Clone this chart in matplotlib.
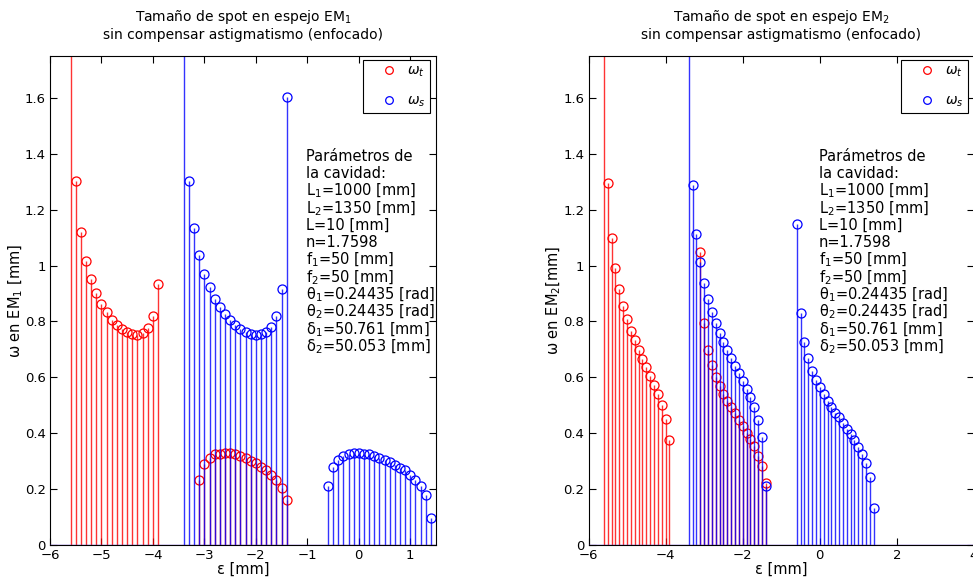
import matplotlib
matplotlib.use("Agg")
import matplotlib.pyplot as plt
from matplotlib.lines import Line2D
from matplotlib.ticker import FormatStrFormatter

plt.rcParams['font.family'] = ['DejaVu Sans']
plt.rcParams['mathtext.fontset'] = 'dejavusans'

# epsilon grid [mm] for each group of stems
eps_t_a = [-5.6, -5.5, -5.4, -5.3, -5.2, -5.1, -5.0, -4.9, -4.8, -4.7, -4.6, -4.5,
           -4.4, -4.3, -4.2, -4.1, -4.0, -3.9]
eps_t_b = [-3.1, -3.0, -2.9, -2.8, -2.7, -2.6, -2.5, -2.4, -2.3, -2.2, -2.1, -2.0,
           -1.9, -1.8, -1.7, -1.6, -1.5, -1.4]
eps_s_a = [-3.4, -3.3, -3.2, -3.1, -3.0, -2.9, -2.8, -2.7, -2.6, -2.5, -2.4, -2.3,
           -2.2, -2.1, -2.0, -1.9, -1.8, -1.7, -1.6, -1.5, -1.4]
eps_s_b = [-0.6, -0.5, -0.4, -0.3, -0.2, -0.1, 0.0, 0.1, 0.2, 0.3, 0.4, 0.5,
           0.6, 0.7, 0.8, 0.9, 1.0, 1.1, 1.2, 1.3, 1.4]

# spot size on EM1 [mm] (first value of each "a" group is off the chart)
w_t_em1_a = [3.0, 1.304, 1.120, 1.018, 0.951, 0.902, 0.862, 0.833, 0.807, 0.788,
             0.773, 0.761, 0.754, 0.751, 0.757, 0.777, 0.818, 0.933]
w_t_em1_b = [0.231, 0.289, 0.313, 0.324, 0.327, 0.330, 0.329, 0.325, 0.320, 0.313,
             0.301, 0.292, 0.280, 0.268, 0.252, 0.232, 0.205, 0.161]
w_s_em1_a = [3.0, 1.302, 1.133, 1.037, 0.971, 0.923, 0.882, 0.851, 0.826, 0.805,
             0.787, 0.773, 0.763, 0.755, 0.751, 0.755, 0.762, 0.780, 0.820, 0.917, 1.604]
w_s_em1_b = [0.212, 0.280, 0.304, 0.319, 0.326, 0.330, 0.330, 0.327, 0.324, 0.319,
             0.312, 0.305, 0.296, 0.287, 0.276, 0.267, 0.252, 0.231, 0.211, 0.179, 0.098]

# spot size on EM2 [mm]
w_t_em2_a = [3.0, 1.294, 1.100, 0.990, 0.915, 0.855, 0.808, 0.767, 0.732, 0.698,
             0.664, 0.636, 0.605, 0.574, 0.541, 0.500, 0.451, 0.375]
w_t_em2_b = [1.049, 0.793, 0.699, 0.643, 0.601, 0.569, 0.542, 0.515, 0.493, 0.471,
             0.448, 0.425, 0.402, 0.379, 0.354, 0.320, 0.282, 0.223]
w_s_em2_a = [3.0, 1.290, 1.113, 1.012, 0.937, 0.880, 0.833, 0.793, 0.760, 0.726,
             0.698, 0.669, 0.642, 0.616, 0.588, 0.560, 0.529, 0.493, 0.449, 0.385, 0.211]
w_s_em2_b = [1.149, 0.830, 0.727, 0.669, 0.622, 0.590, 0.564, 0.540, 0.516, 0.495,
             0.474, 0.457, 0.437, 0.416, 0.398, 0.375, 0.352, 0.324, 0.293, 0.245, 0.131]

param_lines = ["Parámetros de", "la cavidad:", "L$_1$=1000 [mm]", "L$_2$=1350 [mm]",
               "L=10 [mm]", "n=1.7598", "f$_1$=50 [mm]", "f$_2$=50 [mm]",
               "θ$_1$=0.24435 [rad]", "θ$_2$=0.24435 [rad]", "δ$_1$=50.761 [mm]",
               "δ$_2$=50.053 [mm]"]

W, H = 973, 581
fig = plt.figure(figsize=(W / 100, H / 100), dpi=100)
ax1 = fig.add_axes([50 / W, 36 / H, 386 / W, 489 / H])
ax2 = fig.add_axes([588.5 / W, 36 / H, 385.5 / W, 489 / H])


def stems(ax, x, y, color):
    ml, sl, bl = ax.stem(x, y, linefmt='-', markerfmt='o', basefmt=' ')
    plt.setp(sl, color=color, linewidth=1.0, alpha=0.8)
    plt.setp(ml, markerfacecolor='none', markeredgecolor=color, markersize=6.5,
             markeredgewidth=0.9, clip_on=True)
    bl.set_visible(False)


panels = [
    (ax1, 1, w_t_em1_a, w_t_em1_b, w_s_em1_a, w_s_em1_b, [-6, -5, -4, -3, -2, -1, 0, 1],
     (-6, 1.5), "ω en EM$_1$ [mm]", 0.663, -0.5),
    (ax2, 2, w_t_em2_a, w_t_em2_b, w_s_em2_a, w_s_em2_b, [-6, -4, -2, 0, 2, 4],
     (-6, 4), "ω en EM$_2$[mm]", 0.597, 0.5),
]

for ax, k, wta, wtb, wsa, wsb, xt, xl, ylab, tx, lp in panels:
    stems(ax, eps_t_a + eps_t_b, wta + wtb, 'red')
    stems(ax, eps_s_a + eps_s_b, wsa + wsb, 'blue')
    ax.axhline(0, color='#5a2ad0', linewidth=1.0, zorder=3)
    ax.set_xlim(*xl)
    ax.set_ylim(0, 1.75)
    ax.set_xticks(xt)
    ax.set_yticks([0, 0.2, 0.4, 0.6, 0.8, 1.0, 1.2, 1.4, 1.6])
    ax.yaxis.set_major_formatter(FormatStrFormatter('%g'))
    ax.tick_params(direction='in', top=True, right=True, length=5, width=0.8,
                   labelsize=9.5, pad=3)
    for s in ax.spines.values():
        s.set_linewidth(0.8)
    ax.set_title("Tamaño de spot en espejo EM$_%d$\nsin compensar astigmatismo (enfocado)" % k,
                 fontsize=10, pad=12, linespacing=1.2)
    ax.set_xlabel("ε [mm]", fontsize=10.5, labelpad=0)
    ax.set_ylabel(ylab, fontsize=10.5, labelpad=lp)
    for i, line in enumerate(param_lines):
        ax.text(tx, 0.785 - i * 0.03532, line, transform=ax.transAxes, fontsize=10.5,
                va='baseline', ha='left')
    handles = [Line2D([], [], ls='none', marker='o', mfc='none', mec='red', ms=5.5, mew=0.9),
               Line2D([], [], ls='none', marker='o', mfc='none', mec='blue', ms=5.5, mew=0.9)]
    leg = ax.legend(handles, ['$\\omega_t$', '$\\omega_s$'], loc='upper right',
                    bbox_to_anchor=(0.984, 0.992), borderaxespad=0, fancybox=False,
                    edgecolor='black', fontsize=10, borderpad=0.3, handlelength=3.2,
                    handletextpad=-0.3, labelspacing=1.0, framealpha=1)
    leg.get_frame().set_linewidth(0.8)

fig.savefig("out.png", dpi=100)
